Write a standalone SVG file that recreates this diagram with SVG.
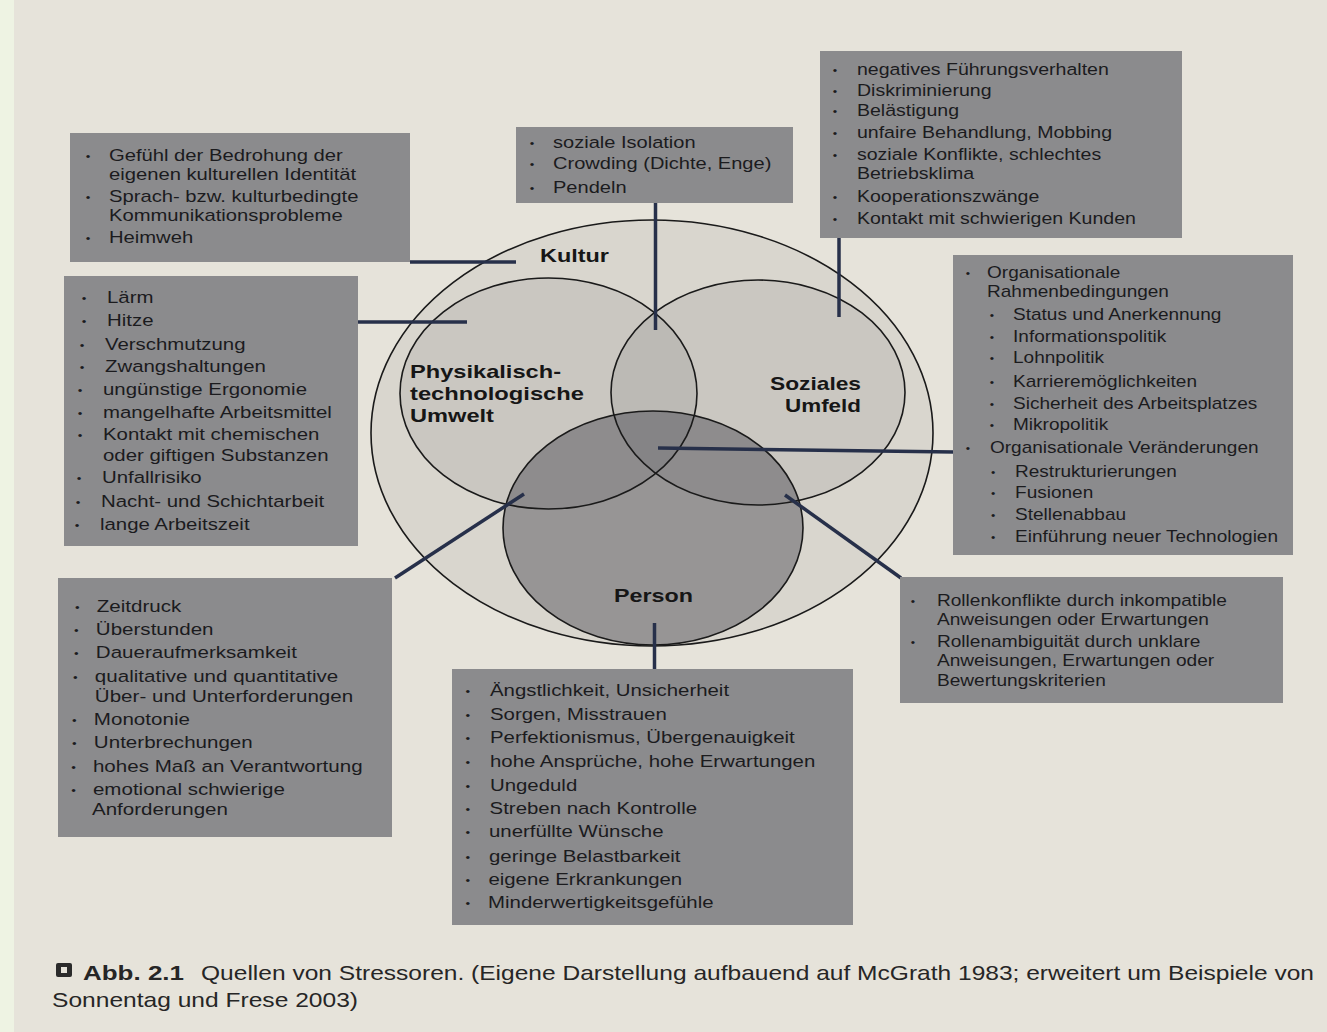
<svg xmlns="http://www.w3.org/2000/svg" width="1327" height="1032" viewBox="0 0 1327 1032">
<defs>
<style>
.box{fill:#8b8b8d;}
.t{font-family:"Liberation Sans",Arial,sans-serif;font-size:17px;fill:#1b1b1e;}
.b{font-family:"Liberation Sans",Arial,sans-serif;font-size:11px;fill:#1b1b1e;}
.lbl{font-family:"Liberation Sans",Arial,sans-serif;font-weight:bold;font-size:19px;fill:#161616;}
.conn{stroke:#27304a;stroke-width:3.5;fill:none;}
.ring{stroke:#1a1a1a;stroke-width:1.6;fill:none;}
.cap{font-family:"Liberation Sans",Arial,sans-serif;font-size:21px;fill:#262626;}
</style>
</defs>
<rect x="0" y="0" width="1327" height="1032" fill="#e6e3da"/>
<rect x="0" y="0" width="14" height="1032" fill="#eef3e3"/>

<g id="venn">
<ellipse cx="652" cy="433" rx="281" ry="213" fill="#d9d6ce"/>
<ellipse cx="548.5" cy="393.5" rx="148.5" ry="115.5" fill="#3a3a42" fill-opacity="0.09"/>
<ellipse cx="758" cy="392.5" rx="147" ry="112.5" fill="#3a3a42" fill-opacity="0.09"/>
<ellipse cx="653" cy="528" rx="150" ry="117" fill="#2e2e3a" fill-opacity="0.38"/>
<ellipse class="ring" cx="652" cy="433" rx="281" ry="213"/>
<ellipse class="ring" cx="548.5" cy="393.5" rx="148.5" ry="115.5"/>
<ellipse class="ring" cx="758" cy="392.5" rx="147" ry="112.5"/>
<ellipse class="ring" cx="653" cy="528" rx="150" ry="117"/>
<text class="lbl" x="540" y="262" textLength="69" lengthAdjust="spacingAndGlyphs">Kultur</text>
<text class="lbl" x="410" y="378" textLength="151" lengthAdjust="spacingAndGlyphs">Physikalisch-</text>
<text class="lbl" x="410" y="400" textLength="174" lengthAdjust="spacingAndGlyphs">technologische</text>
<text class="lbl" x="410" y="422" textLength="84" lengthAdjust="spacingAndGlyphs">Umwelt</text>
<text class="lbl" x="770" y="390" textLength="91" lengthAdjust="spacingAndGlyphs">Soziales</text>
<text class="lbl" x="785" y="412" textLength="76" lengthAdjust="spacingAndGlyphs">Umfeld</text>
<text class="lbl" x="614" y="602" textLength="79" lengthAdjust="spacingAndGlyphs">Person</text>
</g>

<g id="connectors">
<line class="conn" x1="410" y1="262" x2="516" y2="262"/>
<line class="conn" x1="655.5" y1="203" x2="655.5" y2="330"/>
<line class="conn" x1="839" y1="237" x2="839" y2="317"/>
<line class="conn" x1="357" y1="322" x2="467" y2="322"/>
<line class="conn" x1="658" y1="448" x2="954" y2="452"/>
<line class="conn" x1="395" y1="578" x2="524" y2="494"/>
<line class="conn" x1="785" y1="495" x2="901" y2="578"/>
<line class="conn" x1="654.5" y1="623" x2="654.5" y2="669"/>
</g>

<g id="box-kultur">
<rect class="box" x="70" y="133" width="340" height="129"/>
<g transform="matrix(1.19 0 0 1 88 0)">
<text class="b" x="-2" y="160">•</text><text class="t" x="17.6" y="161">Gefühl der Bedrohung der</text>
<text class="t" x="17.6" y="180">eigenen kulturellen Identität</text>
<text class="b" x="-2" y="201">•</text><text class="t" x="17.6" y="202">Sprach- bzw. kulturbedingte</text>
<text class="t" x="17.6" y="221">Kommunikationsprobleme</text>
<text class="b" x="-2" y="242">•</text><text class="t" x="17.6" y="243">Heimweh</text>
</g>
</g>

<g id="box-sozial-top">
<rect class="box" x="516" y="127" width="277" height="76"/>
<g transform="matrix(1.18 0 0 1 532 0)">
<text class="b" x="-2" y="147">•</text><text class="t" x="17.8" y="148">soziale Isolation</text>
<text class="b" x="-2" y="168">•</text><text class="t" x="17.8" y="169">Crowding (Dichte, Enge)</text>
<text class="b" x="-2" y="192">•</text><text class="t" x="17.8" y="193">Pendeln</text>
</g>
</g>

<g id="box-sozial-right">
<rect class="box" x="820" y="51" width="362" height="187"/>
<g transform="matrix(1.15 0 0 1 835 0)">
<text class="b" x="-2" y="74">•</text><text class="t" x="19.1" y="75">negatives Führungsverhalten</text>
<text class="b" x="-2" y="95">•</text><text class="t" x="19.1" y="96">Diskriminierung</text>
<text class="b" x="-2" y="115">•</text><text class="t" x="19.1" y="116">Belästigung</text>
<text class="b" x="-2" y="137">•</text><text class="t" x="19.1" y="138">unfaire Behandlung, Mobbing</text>
<text class="b" x="-2" y="159">•</text><text class="t" x="19.1" y="160">soziale Konflikte, schlechtes</text>
<text class="t" x="19.1" y="179.5">Betriebsklima</text>
<text class="b" x="-2" y="201">•</text><text class="t" x="19.1" y="202">Kooperationszwänge</text>
<text class="b" x="-2" y="223">•</text><text class="t" x="19.1" y="224">Kontakt mit schwierigen Kunden</text>
</g>
</g>

<g id="box-physikalisch">
<rect class="box" x="64" y="276" width="294" height="270"/>
<g transform="matrix(1.2 0 0 1 81 0)">
<text class="b" x="0.7" y="302">•</text><text class="t" x="21.7" y="303">Lärm</text>
<text class="b" x="0.7" y="325">•</text><text class="t" x="21.7" y="326">Hitze</text>
<text class="b" x="-1" y="349">•</text><text class="t" x="20" y="350">Verschmutzung</text>
<text class="b" x="-1" y="371">•</text><text class="t" x="20" y="372">Zwangshaltungen</text>
<text class="b" x="-2.7" y="394">•</text><text class="t" x="18.3" y="395">ungünstige Ergonomie</text>
<text class="b" x="-2.7" y="417">•</text><text class="t" x="18.3" y="418">mangelhafte Arbeitsmittel</text>
<text class="b" x="-2.7" y="439">•</text><text class="t" x="18.3" y="440">Kontakt mit chemischen</text>
<text class="t" x="18.3" y="461">oder giftigen Substanzen</text>
<text class="b" x="-3.5" y="482">•</text><text class="t" x="17.5" y="483">Unfallrisiko</text>
<text class="b" x="-4.3" y="506">•</text><text class="t" x="16.7" y="507">Nacht- und Schichtarbeit</text>
<text class="b" x="-5.2" y="529">•</text><text class="t" x="15.8" y="530">lange Arbeitszeit</text>
</g>
</g>

<g id="box-organisation">
<rect class="box" x="953" y="255" width="340" height="300"/>
<g transform="matrix(1.12 0 0 1 968 0)">
<text class="b" x="-2" y="277">•</text><text class="t" x="17" y="278">Organisationale</text>
<text class="t" x="17" y="297">Rahmenbedingungen</text>
<text class="b" x="19.4" y="319">•</text><text class="t" x="40.2" y="320">Status und Anerkennung</text>
<text class="b" x="19.4" y="341">•</text><text class="t" x="40.2" y="342">Informationspolitik</text>
<text class="b" x="19.4" y="362">•</text><text class="t" x="40.2" y="363">Lohnpolitik</text>
<text class="b" x="19.4" y="386">•</text><text class="t" x="40.2" y="387">Karrieremöglichkeiten</text>
<text class="b" x="19.4" y="408">•</text><text class="t" x="40.2" y="409">Sicherheit des Arbeitsplatzes</text>
<text class="b" x="19.4" y="429">•</text><text class="t" x="40.2" y="430">Mikropolitik</text>
<text class="b" x="-2" y="452">•</text><text class="t" x="19.6" y="453">Organisationale Veränderungen</text>
<text class="b" x="20.5" y="476">•</text><text class="t" x="42" y="477">Restrukturierungen</text>
<text class="b" x="20.5" y="497">•</text><text class="t" x="42" y="498">Fusionen</text>
<text class="b" x="20.5" y="519">•</text><text class="t" x="42" y="520">Stellenabbau</text>
<text class="b" x="20.5" y="541">•</text><text class="t" x="42" y="542">Einführung neuer Technologien</text>
</g>
</g>

<g id="box-aufgabe">
<rect class="box" x="58" y="578" width="334" height="259"/>
<g transform="matrix(1.21 0 0 1 75 0)">
<text class="b" x="0" y="611">•</text><text class="t" x="18" y="612">Zeitdruck</text>
<text class="b" x="-0.8" y="634">•</text><text class="t" x="17.2" y="635">Überstunden</text>
<text class="b" x="-0.8" y="657">•</text><text class="t" x="17.2" y="658">Daueraufmerksamkeit</text>
<text class="b" x="-1.6" y="681">•</text><text class="t" x="16.4" y="682">qualitative und quantitative</text>
<text class="t" x="16.4" y="702">Über- und Unterforderungen</text>
<text class="b" x="-2.4" y="724">•</text><text class="t" x="15.6" y="725">Monotonie</text>
<text class="b" x="-2.4" y="747">•</text><text class="t" x="15.6" y="748">Unterbrechungen</text>
<text class="b" x="-3.2" y="771">•</text><text class="t" x="14.8" y="772">hohes Maß an Verantwortung</text>
<text class="b" x="-3.2" y="794">•</text><text class="t" x="14.8" y="795">emotional schwierige</text>
<text class="t" x="14" y="815">Anforderungen</text>
</g>
</g>

<g id="box-person">
<rect class="box" x="452" y="669" width="401" height="256"/>
<g transform="matrix(1.2 0 0 1 468 0)">
<text class="b" x="-2" y="695">•</text><text class="t" x="18.3" y="696">Ängstlichkeit, Unsicherheit</text>
<text class="b" x="-2" y="719">•</text><text class="t" x="18.3" y="720">Sorgen, Misstrauen</text>
<text class="b" x="-2" y="742">•</text><text class="t" x="18.3" y="743">Perfektionismus, Übergenauigkeit</text>
<text class="b" x="-2" y="766">•</text><text class="t" x="18.3" y="767">hohe Ansprüche, hohe Erwartungen</text>
<text class="b" x="-2" y="790">•</text><text class="t" x="18.3" y="791">Ungeduld</text>
<text class="b" x="-2" y="813">•</text><text class="t" x="18" y="814">Streben nach Kontrolle</text>
<text class="b" x="-2" y="836">•</text><text class="t" x="17.5" y="837">unerfüllte Wünsche</text>
<text class="b" x="-2" y="861">•</text><text class="t" x="17.5" y="862">geringe Belastbarkeit</text>
<text class="b" x="-2" y="884">•</text><text class="t" x="17" y="885">eigene Erkrankungen</text>
<text class="b" x="-2" y="907">•</text><text class="t" x="16.7" y="908">Minderwertigkeitsgefühle</text>
</g>
</g>

<g id="box-rolle">
<rect class="box" x="900" y="577" width="383" height="126"/>
<g transform="matrix(1.125 0 0 1 913 0)">
<text class="b" x="-2" y="605">•</text><text class="t" x="21.3" y="606">Rollenkonflikte durch inkompatible</text>
<text class="t" x="21.3" y="625">Anweisungen oder Erwartungen</text>
<text class="b" x="-2" y="646">•</text><text class="t" x="21.3" y="647">Rollenambiguität durch unklare</text>
<text class="t" x="21.3" y="666.5">Anweisungen, Erwartungen oder</text>
<text class="t" x="21.3" y="686">Bewertungskriterien</text>
</g>
</g>

<g id="caption">
<rect x="56" y="963" width="16" height="14" rx="2" fill="#2b2b2b"/>
<rect x="61" y="967" width="6" height="6" fill="#e6e3da"/>
<text class="cap" x="83" y="980" font-weight="bold" textLength="101" lengthAdjust="spacingAndGlyphs">Abb. 2.1</text>
<text class="cap" x="201" y="980" textLength="1113" lengthAdjust="spacingAndGlyphs">Quellen von Stressoren. (Eigene Darstellung aufbauend auf McGrath 1983; erweitert um Beispiele von</text>
<text class="cap" x="52" y="1007" textLength="306" lengthAdjust="spacingAndGlyphs">Sonnentag und Frese 2003)</text>
</g>
</svg>
